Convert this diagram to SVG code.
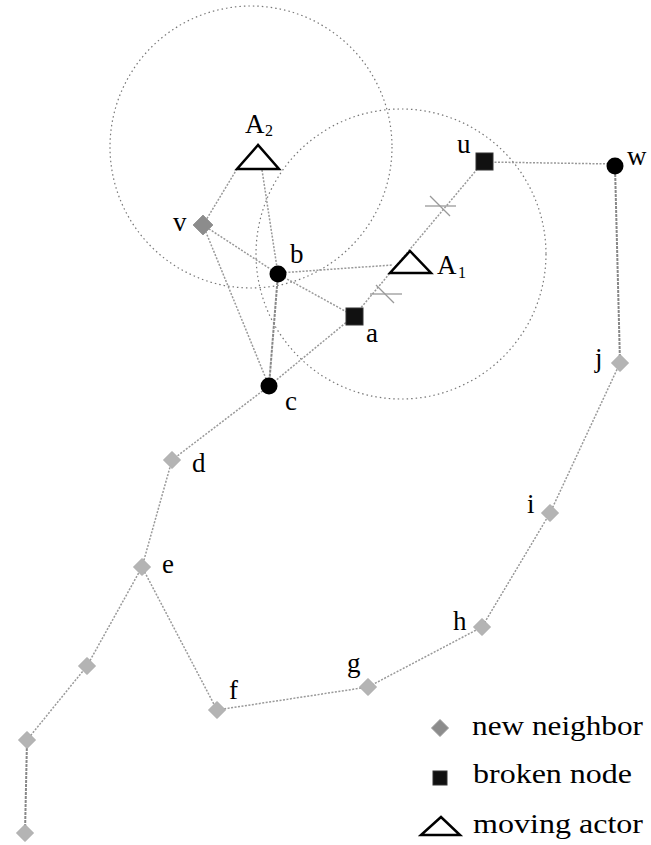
<svg xmlns="http://www.w3.org/2000/svg" width="651" height="845" viewBox="0 0 651 845">
<style>
.range{fill:none;stroke:#777;stroke-width:1.2;stroke-dasharray:1.5 3}
.link{fill:none;stroke:#999;stroke-width:1.5;stroke-dasharray:2 1.5}
.dense{fill:none;stroke:#888;stroke-width:2;stroke-dasharray:3 1}
.cut{fill:none;stroke:#999;stroke-width:1.3}
.nb{fill:#b4b4b4;stroke:#aaa;stroke-width:1}
.nbd{fill:#8c8c8c;stroke:#999;stroke-width:1}
.br{fill:#111;stroke:#333;stroke-width:1}
.blk{fill:#000}
.actor{fill:#fff;stroke:#000;stroke-width:2.5;stroke-linejoin:miter}
text{font-family:'Liberation Serif',Tinos,'Times New Roman',Times,serif;fill:#000}
.lbl{font-size:27px}
.sub{font-size:16px}
.leg{font-size:27px}
</style>
<defs>
<path id="dia" d="M0,-8.5 L8.5,0 L0,8.5 L-8.5,0 Z"/>
</defs>
<rect width="651" height="845" fill="#fff"/>
<g id="ranges">
<circle class="range" cx="251" cy="147" r="141"/>
<circle class="range" cx="401" cy="254" r="145"/>
</g>
<g id="connectors">
<line class="link" x1="237" y1="169" x2="203" y2="225"/>
<line class="link" x1="262" y1="170" x2="278" y2="274"/>
<line class="link" x1="203" y1="225" x2="278" y2="274"/>
<line class="link" x1="278" y1="274" x2="354" y2="316"/>
<line class="link" x1="203" y1="225" x2="269" y2="386"/>
<line class="dense" x1="278" y1="274" x2="269" y2="386"/>
<line class="link" x1="354" y1="316" x2="269" y2="386"/>
<line class="link" x1="278" y1="273" x2="392" y2="265"/>
<line class="link" x1="484" y1="161" x2="354" y2="316"/>
<line class="link" x1="484" y1="162" x2="615" y2="164"/>
<line class="dense" x1="615" y1="166" x2="620" y2="363"/>
<line class="link" x1="620" y1="363" x2="550" y2="513"/>
<line class="link" x1="550" y1="513" x2="482" y2="627"/>
<line class="link" x1="482" y1="627" x2="368" y2="687"/>
<line class="link" x1="368" y1="687" x2="217" y2="710"/>
<line class="link" x1="217" y1="710" x2="142" y2="567"/>
<line class="link" x1="142" y1="567" x2="172" y2="460"/>
<line class="link" x1="172" y1="460" x2="269" y2="386"/>
<line class="link" x1="142" y1="567" x2="87" y2="666"/>
<line class="link" x1="87" y1="666" x2="27" y2="740"/>
<line class="dense" x1="27" y1="740" x2="25" y2="833"/>
<line class="cut" x1="425" y1="206" x2="456" y2="206"/>
<line class="cut" x1="430" y1="196" x2="450" y2="216"/>
<line class="cut" x1="370" y1="294" x2="402" y2="294"/>
<line class="cut" x1="376" y1="285" x2="394" y2="303"/>
</g>
<g id="node-A2">
<polygon class="actor" points="258,145 237,169 279,169"/>
<text class="lbl" x="245" y="133">A</text><text class="sub" x="265" y="136">2</text>
</g>
<g id="node-A1">
<polygon class="actor" points="410,251 390,273 431,273"/>
<text class="lbl" x="437" y="274">A</text><text class="sub" x="458" y="278">1</text>
</g>
<g id="node-v">
<path class="nbd" d="M203,215 L213,225 L203,235 L193,225 Z"/>
<text class="lbl" x="173" y="231">v</text>
</g>
<g id="node-b">
<circle class="blk" cx="278" cy="274" r="8.5"/>
<text class="lbl" x="290" y="263">b</text>
</g>
<g id="node-a">
<rect class="br" x="346" y="308" width="17" height="17"/>
<text class="lbl" x="366" y="342">a</text>
</g>
<g id="node-c">
<circle class="blk" cx="269" cy="386" r="8.5"/>
<text class="lbl" x="285" y="410">c</text>
</g>
<g id="node-u">
<rect class="br" x="476" y="153" width="17" height="17"/>
<text class="lbl" x="457" y="153">u</text>
</g>
<g id="node-w">
<circle class="blk" cx="615" cy="166" r="8.5"/>
<text class="lbl" x="627" y="165">w</text>
</g>
<g id="node-j">
<use href="#dia" class="nb" x="620" y="363"/>
<text class="lbl" x="595" y="367">j</text>
</g>
<g id="node-i">
<use href="#dia" class="nb" x="550" y="513"/>
<text class="lbl" x="527" y="513">i</text>
</g>
<g id="node-h">
<use href="#dia" class="nb" x="482" y="627"/>
<text class="lbl" x="453" y="630">h</text>
</g>
<g id="node-g">
<use href="#dia" class="nb" x="368" y="687"/>
<text class="lbl" x="347" y="672">g</text>
</g>
<g id="node-f">
<use href="#dia" class="nb" x="217" y="710"/>
<text class="lbl" x="229" y="699">f</text>
</g>
<g id="node-e">
<use href="#dia" class="nb" x="142" y="567"/>
<text class="lbl" x="162" y="573">e</text>
</g>
<g id="node-d">
<use href="#dia" class="nb" x="172" y="460"/>
<text class="lbl" x="192" y="472">d</text>
</g>
<g id="node-n1">
<use href="#dia" class="nb" x="87" y="666"/>
</g>
<g id="node-n2">
<use href="#dia" class="nb" x="27" y="740"/>
</g>
<g id="node-n3">
<use href="#dia" class="nb" x="25" y="833"/>
</g>
<g id="legend">
<use href="#dia" class="nbd" x="440" y="728"/>
<text class="leg" x="472" y="735" textLength="171" lengthAdjust="spacingAndGlyphs">new neighbor</text>
<rect class="br" x="433" y="771" width="14" height="14"/>
<text class="leg" x="473" y="783" textLength="159" lengthAdjust="spacingAndGlyphs">broken node</text>
<polygon class="actor" points="441,817 421,835 460,835"/>
<text class="leg" x="473" y="833" textLength="170" lengthAdjust="spacingAndGlyphs">moving actor</text>
</g>
</svg>
